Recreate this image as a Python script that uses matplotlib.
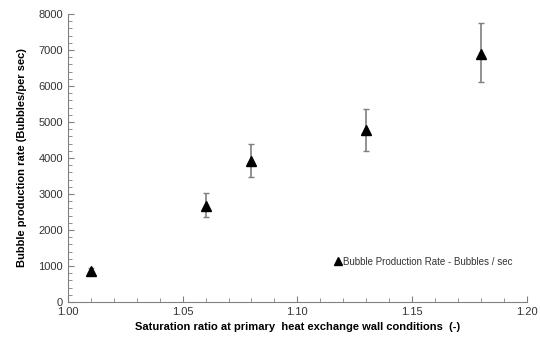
import matplotlib.pyplot as plt
from matplotlib.ticker import MultipleLocator

plt.rcParams['font.family'] = ['Liberation Sans', 'DejaVu Sans']

ratio = [1.01, 1.06, 1.08, 1.13, 1.18]
rate = [860, 2680, 3910, 4780, 6890]
err_low = [80, 310, 430, 580, 780]
err_high = [80, 360, 490, 570, 850]

fig = plt.figure(figsize=(5.4, 3.42), dpi=100)
ax = fig.add_axes([0.126, 0.117, 0.849, 0.842])

ax.errorbar(ratio, rate, yerr=[err_low, err_high], fmt='none', ecolor='#7f7f7f',
            elinewidth=1.2, capsize=2.5, capthick=1)
ax.plot(ratio, rate, linestyle='none', marker='^', color='black', markersize=6.5,
        label='Bubble Production Rate - Bubbles / sec')

ax.set_xlim(1.00, 1.20)
ax.set_ylim(0, 8000)
ax.xaxis.set_major_locator(MultipleLocator(0.05))
ax.xaxis.set_minor_locator(MultipleLocator(0.01))
ax.yaxis.set_major_locator(MultipleLocator(1000))
ax.yaxis.set_minor_locator(MultipleLocator(200))
ax.xaxis.set_major_formatter(plt.FormatStrFormatter('%.2f'))

for s in ['top', 'right']:
    ax.spines[s].set_visible(False)
for s in ['left', 'bottom']:
    ax.spines[s].set_color('#808080')

ax.tick_params(which='both', direction='in', colors='#808080', labelcolor='#333333', labelsize=8)
ax.tick_params(which='major', length=4)
ax.tick_params(which='minor', length=3)

ax.set_xlabel('Saturation ratio at primary  heat exchange wall conditions  (-)',
              fontsize=8, fontweight='bold', labelpad=4)
ax.set_ylabel('Bubble production rate (Bubbles/per sec)', fontsize=8, fontweight='bold', labelpad=8)

ax.legend(loc='center left', bbox_to_anchor=(0.56, 0.14), frameon=False, fontsize=7,
          handletextpad=0.0, handlelength=1.0, markerscale=0.8, labelcolor='#333333')

fig.savefig('out.png', dpi=100)
